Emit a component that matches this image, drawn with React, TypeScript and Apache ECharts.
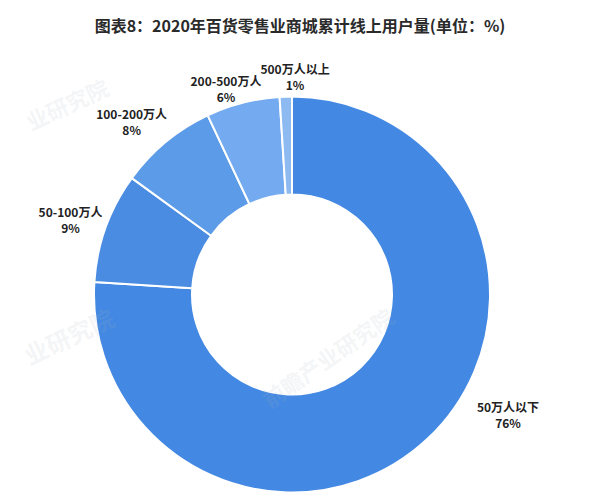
import React, { useEffect, useRef } from "react";
import * as echarts from "echarts";

const titleText = "图表8：2020年百货零售业商城累计线上用户量(单位：%)";
const categories = ["50万人以下", "50-100万人", "100-200万人", "200-500万人", "500万人以上"];
const values = [76, 9, 8, 6, 1];
const colors = ["#4388E2", "#4A8CE2", "#5C9BE7", "#74AAEF", "#8DBAF1"];

// label placement tweaks (radius from centre, angle shift in degrees)
const labelRadius = [247, 234, 236, 216, 218];
const labelAngleShift = [17.8, 1, 3.2, 3.4, -2.6];

const CX = 292;
const CY = 294.5;

export default function App() {
  const ref = useRef<HTMLDivElement>(null);
  useEffect(() => {
    if (!ref.current) return;
    const chart = echarts.init(ref.current, null, { renderer: "svg" });
    const total = values.reduce((a, b) => a + b, 0);
    const mids: number[] = [];
    let acc = 0;
    values.forEach((v) => {
      const start = 90 - (acc / total) * 360;
      acc += v;
      const end = 90 - (acc / total) * 360;
      mids.push((start + end) / 2);
    });
    const wm = "rgba(170,178,188,0.14)";
    chart.setOption({
      animation: false,
      backgroundColor: "#ffffff",
      title: {
        text: titleText,
        left: "center",
        top: 12,
        textStyle: {
          fontFamily: "Noto Sans CJK SC",
          fontSize: 16,
          fontWeight: "bold",
          color: "#2a2a2a",
        },
      },
      graphic: [
        { type: "text", z: 100, x: 258, y: 392, rotation: (35 * Math.PI) / 180, style: { text: "前瞻产业研究院", fontSize: 22, fontWeight: "bold", fontFamily: "Noto Sans CJK SC", fill: wm } },
        { type: "text", z: 100, x: 20, y: 345, rotation: (25 * Math.PI) / 180, style: { text: "业研究院", fontSize: 24, fontWeight: "bold", fontFamily: "Noto Sans CJK SC", fill: wm } },
        { type: "text", z: 100, x: 22, y: 112, rotation: (25 * Math.PI) / 180, style: { text: "业研究院", fontSize: 22, fontWeight: "bold", fontFamily: "Noto Sans CJK SC", fill: wm } },
      ],
      series: [
        {
          type: "pie",
          center: [CX, CY],
          radius: [100, 198],
          startAngle: 90,
          clockwise: true,
          avoidLabelOverlap: false,
          itemStyle: { borderColor: "#ffffff", borderWidth: 2 },
          label: {
            show: true,
            position: "outside",
            formatter: "{b}\n{c}%",
            fontFamily: "Noto Sans CJK SC",
            fontSize: 12,
            fontWeight: "bold",
            lineHeight: 16,
            color: "#222222",
          },
          labelLine: { show: false },
          labelLayout: (params: any) => {
            const i = params.dataIndex;
            const ang = ((mids[i] + labelAngleShift[i]) * Math.PI) / 180;
            return {
              x: CX + labelRadius[i] * Math.cos(ang),
              y: CY - labelRadius[i] * Math.sin(ang),
              align: "center",
              verticalAlign: "middle",
            };
          },
          emphasis: { disabled: true },
          data: categories.map((name, i) => ({
            name,
            value: values[i],
            itemStyle: { color: colors[i] },
          })),
        },
      ],
    });
    return () => chart.dispose();
  }, []);
  return (
    <div
      ref={ref}
      style={{ position: "fixed", left: 0, top: 0, width: 600, height: 502 }}
    />
  );
}
